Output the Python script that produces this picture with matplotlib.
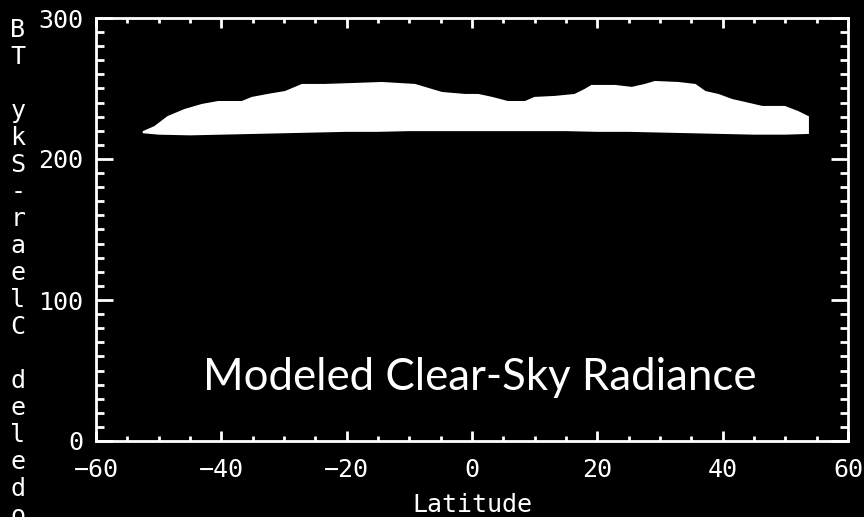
import matplotlib
matplotlib.use("Agg")
import matplotlib.pyplot as plt
from matplotlib.ticker import MultipleLocator

# Envelope of the modeled clear-sky brightness temperatures vs latitude
upper_lat = [-52.5, -50.6, -48.5, -45.8, -43.1, -40.5, -36.7, -35.1, -32.6, -29.8,
             -27.1, -23.5, -18.7, -14.4, -9.1, -6.4, -4.8, -1.1, 1.0, 3.2,
             5.7, 8.5, 10.0, 13.2, 16.4, 18.0, 19.1, 22.8, 25.5, 27.6,
             29.2, 32.9, 35.6, 37.2, 39.3, 41.5, 43.6, 46.3, 49.9, 52.0, 53.6]
upper_bt = [219.0, 222.7, 229.8, 234.8, 238.3, 240.4, 240.4, 243.3, 245.4, 247.5,
            252.5, 252.5, 253.2, 253.9, 252.5, 248.9, 246.8, 245.4, 245.4, 243.3,
            240.4, 240.4, 243.3, 244.0, 245.4, 248.9, 251.8, 251.8, 250.4, 252.5,
            254.6, 253.9, 252.5, 247.5, 245.4, 241.8, 239.7, 236.9, 236.9, 233.3, 229.8]

lower_lat = [-52.5, -50, -45, -40, -35, -30, -25, -20, -15, -10, -5, 0,
             5, 10, 15, 20, 25, 30, 35, 40, 45, 50, 53.6]
lower_bt = [219.0, 218.0, 217.5, 218.0, 218.5, 219.0, 219.5, 220.0, 220.0, 220.5, 220.5, 220.5,
            220.5, 220.5, 220.5, 220.0, 220.0, 219.5, 219.0, 218.5, 218.0, 218.0, 218.5]

xticks = [-60, -40, -20, 0, 20, 40, 60]
yticks = [0, 100, 200, 300]
ylabel = "Modeled Clear-Sky TB"
title_text = "Modeled Clear-Sky Radiance"

mono = "DejaVu Sans Mono"

fig = plt.figure(figsize=(8.64, 5.17), dpi=100, facecolor="black")
ax = fig.add_axes([96 / 864, 1 - 441 / 517, 752 / 864, 423 / 517])
ax.set_facecolor("black")

# white band: upper edge left->right, lower edge right->left
poly_x = upper_lat + lower_lat[::-1]
poly_y = upper_bt + lower_bt[::-1]
ax.fill(poly_x, poly_y, color="white", lw=1.5, ec="white")

ax.set_xlim(-60, 60)
ax.set_ylim(0, 300)
ax.set_xticks(xticks)
ax.set_yticks(yticks)
ax.xaxis.set_minor_locator(MultipleLocator(5))
ax.yaxis.set_minor_locator(MultipleLocator(10))

for s in ax.spines.values():
    s.set_color("white")
    s.set_linewidth(2)

ax.tick_params(axis="both", which="both", direction="in", colors="white",
               top=True, right=True, width=2, labelsize=18)
ax.tick_params(axis="x", which="major", length=7, pad=12)
ax.tick_params(axis="x", which="minor", length=3.5)
ax.tick_params(axis="y", which="major", length=12, pad=9)
ax.tick_params(axis="y", which="minor", length=6)
for lab in ax.get_xticklabels() + ax.get_yticklabels():
    lab.set_family(mono)

ax.set_xlabel("Latitude", family=mono, fontsize=18, color="white", labelpad=8)

# stacked y label, drawn top to bottom from the reversed string
for i, ch in enumerate(ylabel[::-1]):
    if ch == " ":
        continue
    fig.text(18 / 864, 1 - (30 + 27 * i) / 517, ch, family=mono, fontsize=18,
             color="white", ha="center", va="center")

ax.text(1.3, 45, title_text, family="Lato", fontsize=31.5, color="white",
        ha="center", va="center")

fig.savefig("out.png", dpi=100, facecolor="black")
